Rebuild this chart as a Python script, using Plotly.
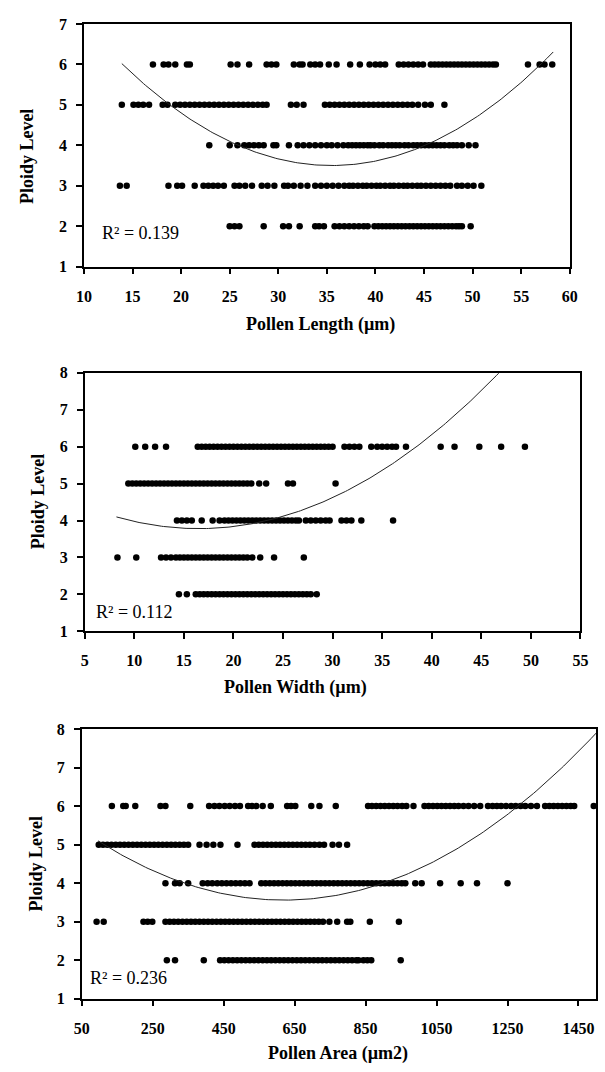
import numpy as np
import plotly.graph_objects as go

# ---------------- data ----------------
ploidy_levels = [6, 5, 4, 3, 2]

# Panel 1: Pollen Length (um)
len_p6 = [17.1, 18.2, 18.7, 19.4, 20.6, 20.9, 25.1, 25.8, 27.0, 28.8, 29.3, 29.8, 31.6, 32.2, 32.5,
          33.3, 33.8, 34.3, 35.2, 36.0, 37.4, 38.4, 39.4, 40.0, 40.5, 41.0, 42.4, 42.9, 43.4, 43.9,
          44.4, 44.9, 45.7, 46.1, 46.5, 46.9, 47.3, 47.7, 48.1, 48.5, 48.9, 49.3, 49.7, 50.1, 50.5,
          50.9, 51.3, 51.7, 52.1, 52.4, 55.7, 56.9, 57.4, 58.2]
len_p5 = [13.9, 15.1, 15.6, 16.1, 16.7, 18.1, 18.6, 19.4, 19.9, 20.4, 20.9, 21.4, 21.9, 22.4, 22.9,
          23.4, 23.9, 24.4, 24.9, 25.4, 25.9, 26.4, 26.9, 27.4, 27.9, 28.4, 28.8, 31.3, 31.9, 32.6,
          34.8, 35.3, 35.8, 36.3, 36.8, 37.3, 37.8, 38.3, 38.8, 39.3, 39.8, 40.3, 40.8, 41.3, 41.8,
          42.3, 42.8, 43.3, 43.8, 44.4, 45.1, 45.7, 47.1]
len_p4 = [22.9, 25.0, 25.8, 26.5, 27.0, 27.5, 28.0, 28.5, 29.5, 29.8, 31.1, 32.0, 32.6, 33.2, 33.8,
          34.4, 35.0, 35.5, 36.1, 36.7, 37.2, 37.6, 38.0, 38.4, 38.8, 39.2, 39.5, 39.9, 40.4, 40.8,
          41.3, 41.7, 42.1, 42.5, 43.0, 43.4, 43.9, 44.3, 44.7, 45.1, 45.5, 45.9, 46.3, 46.7, 47.1,
          47.6, 48.0, 48.4, 48.9, 49.6, 50.3]
len_p3 = [13.7, 14.4, 18.7, 19.6, 20.1, 21.4, 22.3, 22.8, 23.3, 23.8, 24.4, 25.5, 26.0, 26.6, 27.3,
          28.3, 28.9, 29.6, 30.6, 31.0, 31.6, 32.3, 33.0, 33.8, 34.4, 35.0, 35.6, 36.2, 36.8, 37.3,
          37.7, 38.2, 38.7, 39.1, 39.6, 40.1, 40.5, 41.0, 41.5, 41.9, 42.4, 42.9, 43.3, 43.8, 44.3,
          44.7, 45.2, 45.7, 46.2, 46.7, 47.2, 47.7, 48.4, 48.9, 49.5, 50.1, 50.9]
len_p2 = [25.0, 25.5, 26.0, 28.5, 30.5, 31.1, 32.2, 33.8, 34.2, 34.7, 35.8, 36.3, 36.8, 37.3, 37.8,
          38.3, 38.8, 39.2, 39.9, 40.3, 40.7, 41.1, 41.5, 41.9, 42.3, 42.7, 43.1, 43.5, 43.9, 44.3,
          44.7, 45.1, 45.5, 45.9, 46.3, 46.7, 47.1, 47.5, 47.9, 48.3, 48.6, 48.9, 49.8]

# Panel 2: Pollen Width (um)
wid_p6 = [10.1, 11.1, 12.1, 13.2, 16.4, 16.8, 17.2, 17.6, 18.0, 18.4, 18.8, 19.2, 19.6, 20.0, 20.4,
          20.8, 21.2, 21.6, 22.0, 22.4, 22.8, 23.2, 23.6, 24.0, 24.4, 24.8, 25.2, 25.6, 26.0, 26.4,
          26.8, 27.2, 27.6, 28.0, 28.4, 28.8, 29.2, 29.6, 30.0, 31.2, 31.7, 32.2, 32.7, 33.9, 34.5,
          35.0, 35.5, 36.0, 36.4, 37.4, 40.9, 42.3, 44.8, 47.0, 49.4]
wid_p5 = [9.4, 9.8, 10.2, 10.6, 11.0, 11.4, 11.8, 12.2, 12.6, 13.0, 13.4, 13.8, 14.2, 14.6, 15.0,
          15.4, 15.8, 16.2, 16.6, 17.0, 17.4, 17.8, 18.2, 18.6, 19.0, 19.4, 19.8, 20.2, 20.6, 21.0,
          21.4, 21.8, 22.6, 23.3, 25.5, 26.0, 30.3]
wid_p4 = [14.3, 14.8, 15.3, 15.8, 16.8, 17.9, 18.6, 19.1, 19.5, 19.9, 20.3, 20.7, 21.1, 21.5, 21.9,
          22.3, 22.7, 23.1, 23.5, 23.9, 24.3, 24.7, 25.1, 25.5, 25.9, 26.3, 26.6, 27.3, 27.8, 28.3,
          28.8, 29.3, 29.7, 30.9, 31.4, 31.9, 32.9, 36.1]
wid_p3 = [8.3, 10.2, 12.7, 13.2, 13.7, 14.2, 14.6, 15.0, 15.4, 15.8, 16.2, 16.6, 17.0, 17.4, 17.8,
          18.2, 18.6, 19.0, 19.4, 19.8, 20.2, 20.6, 21.0, 21.4, 21.9, 22.7, 24.1, 27.1]
wid_p2 = [14.5, 15.3, 16.2, 16.6, 17.0, 17.4, 17.8, 18.2, 18.6, 19.0, 19.4, 19.8, 20.2, 20.6, 21.0,
          21.4, 21.8, 22.2, 22.6, 23.0, 23.4, 23.8, 24.2, 24.6, 25.0, 25.4, 25.8, 26.2, 26.6, 27.0,
          27.4, 27.8, 28.4]

# Panel 3: Pollen Area (um2)
area_p6 = [135, 167, 174, 201, 272, 286, 356, 409, 424, 438, 453, 467, 482, 496, 519, 530, 542, 560,
           583, 629, 640, 652, 697, 720, 766, 857, 868, 880, 892, 904, 916, 928, 940, 953, 965, 985,
           1016, 1028, 1040, 1052, 1064, 1076, 1088, 1100, 1112, 1126, 1140, 1156, 1173, 1195, 1208,
           1220, 1232, 1246, 1260, 1273, 1287, 1300, 1316, 1333, 1356, 1368, 1380, 1392, 1404, 1416,
           1428, 1438, 1493]
area_p5 = [98, 110, 122, 134, 146, 158, 170, 182, 194, 206, 218, 230, 242, 254, 266, 278, 290, 302,
           314, 326, 338, 350, 382, 402, 421, 441, 489, 537, 549, 561, 573, 585, 597, 609, 621, 633,
           645, 657, 669, 681, 693, 706, 720, 733, 757, 775, 798]
area_p4 = [286, 313, 326, 350, 391, 405, 418, 432, 445, 458, 471, 484, 497, 510, 523, 556, 568, 580,
           592, 604, 616, 628, 640, 652, 664, 676, 688, 700, 712, 724, 736, 748, 760, 772, 784, 796,
           808, 820, 832, 844, 856, 868, 880, 892, 904, 916, 928, 940, 952, 962, 990, 1008, 1060,
           1118, 1164, 1250]
area_p3 = [92, 112, 224, 236, 249, 286, 298, 310, 322, 334, 346, 358, 370, 382, 394, 406, 418, 430,
           442, 454, 466, 478, 490, 502, 514, 526, 538, 550, 562, 574, 586, 598, 610, 622, 634, 646,
           658, 670, 682, 694, 706, 718, 730, 748, 770, 798, 807, 862, 944]
area_p2 = [290, 313, 394, 440, 452, 464, 476, 488, 500, 512, 524, 536, 548, 560, 572, 584, 596, 608,
           620, 632, 644, 656, 668, 680, 692, 704, 716, 728, 740, 752, 764, 776, 788, 800, 812, 824,
           830, 844, 855, 866, 949]

# quadratic trendlines: y = c2*x^2 + c1*x + c0, drawn between x_start and x_end
trend_len = dict(c2=0.0054, c1=-0.3834, c0=10.305, x_start=13.9, x_end=58.3)
trend_wid = dict(c2=0.0046, c1=-0.1518, c0=5.032, x_start=8.2, x_end=47.5)
trend_area = dict(c2=5.6e-6, c1=-0.006944, c0=5.713, x_start=96, x_end=1500)

r2_labels = ["R² = 0.139", "R² = 0.112", "R² = 0.236"]
x_titles = ["Pollen Length (µm)", "Pollen Width (µm)", "Pollen Area (µm2)"]
y_title = "Ploidy Level"

# ---------------- figure ----------------
W, H = 605, 1072
def fx(px):
    return px / W
def fy(py):
    return 1 - py / H

panels = [
    dict(rows=[len_p6, len_p5, len_p4, len_p3, len_p2], trend=trend_len,
         xdom=(78, 577), ydom=(16.2, 262.8), xr=[10, 60], x0=10, dx=5, yr=[1, 7]),
    dict(rows=[wid_p6, wid_p5, wid_p4, wid_p3, wid_p2], trend=trend_wid,
         xdom=(78.8, 588), ydom=(370.7, 633.3), xr=[5, 55], x0=5, dx=5, yr=[1, 8]),
    dict(rows=[area_p6, area_p5, area_p4, area_p3, area_p2], trend=trend_area,
         xdom=(75.7, 604.2), ydom=(732.7, 1006.7), xr=[50, 1500], x0=50, dx=200, yr=[1, 8]),
]

serif = "Liberation Serif, Times New Roman, serif"
fig = go.Figure()

for i, p in enumerate(panels):
    sfx = "" if i == 0 else str(i + 1)
    xa, ya = "x" + sfx, "y" + sfx
    xs, ys = [], []
    for lvl, vals in zip(ploidy_levels, p["rows"]):
        xs += list(vals)
        ys += [lvl] * len(vals)
    fig.add_trace(go.Scatter(x=xs, y=ys, mode="markers", xaxis=xa, yaxis=ya,
                             marker=dict(color="black", size=6.5), showlegend=False,
                             hoverinfo="skip"))
    t = p["trend"]
    tx = np.linspace(t["x_start"], t["x_end"], 200)
    ty = t["c2"] * tx ** 2 + t["c1"] * tx + t["c0"]
    fig.add_trace(go.Scatter(x=tx, y=ty, mode="lines", xaxis=xa, yaxis=ya,
                             line=dict(color="#222222", width=1), showlegend=False,
                             hoverinfo="skip"))
    common = dict(showline=True, linecolor="black", linewidth=1.5, mirror=True,
                  ticks="outside", ticklen=6, tickcolor="black", tickwidth=1.5,
                  showgrid=False, zeroline=False,
                  tickfont=dict(family=serif, size=16, color="black", weight="bold"))
    fig.update_layout(**{
        "xaxis" + sfx: dict(domain=[fx(p["xdom"][0]), fx(p["xdom"][1])], range=p["xr"],
                            tick0=p["x0"], dtick=p["dx"], anchor=ya, ticklabelstandoff=8,
                            **common),
        "yaxis" + sfx: dict(domain=[fy(p["ydom"][1]), fy(p["ydom"][0])], range=p["yr"],
                            dtick=1, anchor=xa, ticklabelstandoff=6, **common),
    })

# text annotations
r2_pos = [(136, 229), (129, 614), (124, 986)]
xt_pos = [(321, 322), (295, 690), (339, 1062)]
yt_pos = [(19, 150), (31, 501), (29, 869)]
ann = []
for i in range(3):
    ann.append(dict(x=fx(r2_pos[i][0]), y=fy(r2_pos[i][1]), xref="paper", yref="paper",
                    text=r2_labels[i], showarrow=False, xanchor="center", yanchor="middle",
                    font=dict(family=serif, size=18, color="black")))
    ann.append(dict(x=fx(xt_pos[i][0]), y=fy(xt_pos[i][1]), xref="paper", yref="paper",
                    text=x_titles[i], showarrow=False, xanchor="center", yanchor="middle",
                    font=dict(family=serif, size=18, color="black", weight="bold")))
    ann.append(dict(x=fx(yt_pos[i][0]), y=fy(yt_pos[i][1]), xref="paper", yref="paper",
                    text=y_title, showarrow=False, xanchor="center", yanchor="middle",
                    textangle=-90,
                    font=dict(family=serif, size=18, color="black", weight="bold")))

fig.update_layout(width=W, height=H, margin=dict(l=0, r=0, t=0, b=0),
                  paper_bgcolor="white", plot_bgcolor="white", annotations=ann)

fig.write_html("out.html", config={"displayModeBar": False},
               post_script="document.body.style.margin='0';document.body.style.overflow='hidden';")
